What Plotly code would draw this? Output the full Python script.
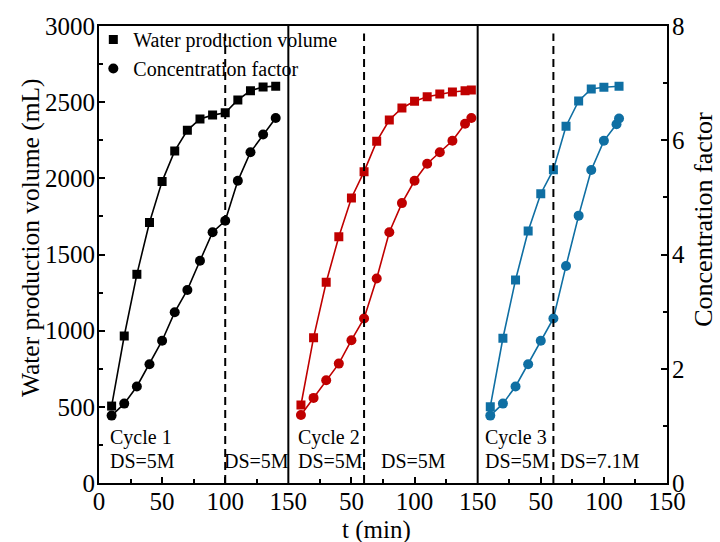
import plotly.graph_objects as go

# ---------------- data ----------------
t1 = [10, 20, 30, 40, 50, 60, 70, 80, 90, 100, 110, 120, 130, 140]
vol1 = [505, 965, 1370, 1710, 1980, 2180, 2315, 2390, 2415, 2430, 2515, 2575, 2600, 2605]
cf1 = [1.18, 1.39, 1.69, 2.08, 2.49, 2.99, 3.38, 3.89, 4.39, 4.59, 5.29, 5.79, 6.10, 6.39]

t2 = [10, 20, 30, 40, 50, 60, 70, 80, 90, 100, 110, 120, 130, 140, 145]
vol2 = [512, 954, 1318, 1617, 1871, 2044, 2243, 2383, 2462, 2506, 2536, 2554, 2567, 2575, 2580]
cf2 = [1.19, 1.49, 1.80, 2.09, 2.50, 2.88, 3.58, 4.39, 4.90, 5.29, 5.59, 5.79, 5.99, 6.29, 6.39]

t3_vol = [10, 20, 30, 40, 50, 60, 70, 80, 90, 100, 112]
vol3 = [501, 950, 1333, 1654, 1899, 2057, 2342, 2508, 2587, 2598, 2604]
t3_cf = [10, 20, 30, 40, 50, 60, 70, 80, 90, 100, 110, 112]
cf3 = [1.18, 1.39, 1.69, 2.08, 2.49, 2.88, 3.80, 4.68, 5.48, 5.99, 6.28, 6.38]

switch_t = [100, 60, 60]
panel_ticks = [[0, 50, 100, 150], [50, 100, 150], [50, 100, 150]]
legend_names = ["Water production volume", "Concentration factor"]
cycle_labels = ["Cycle 1", "Cycle 2", "Cycle 3"]
ds_before = ["DS=5M", "DS=5M", "DS=5M"]
ds_after = ["DS=5M", "DS=5M", "DS=7.1M"]

colors = ["#000000", "#c00000", "#0f6fa3"]
FONT = "Liberation Serif"

fig = go.Figure()

panels = [
    ("x", t1, vol1, t1, cf1),
    ("x2", t2, vol2, t2, cf2),
    ("x3", t3_vol, vol3, t3_cf, cf3),
]
for i, (xa, tv, v, tc, c) in enumerate(panels):
    fig.add_trace(go.Scatter(x=tv, y=v, xaxis=xa, yaxis="y", mode="lines+markers",
                             line=dict(color=colors[i], width=1.6),
                             marker=dict(symbol="square", size=9, color=colors[i]),
                             showlegend=False))
    fig.add_trace(go.Scatter(x=tc, y=c, xaxis=xa, yaxis="y2", mode="lines+markers",
                             line=dict(color=colors[i], width=1.6),
                             marker=dict(symbol="circle", size=10, color=colors[i]),
                             showlegend=False))

# legend entries (black markers only)
fig.add_trace(go.Scatter(x=[None], y=[None], xaxis="x", yaxis="y", mode="markers",
                         marker=dict(symbol="square", size=9, color="black"),
                         name=legend_names[0]))
fig.add_trace(go.Scatter(x=[None], y=[None], xaxis="x", yaxis="y", mode="markers",
                         marker=dict(symbol="circle", size=10, color="black"),
                         name=legend_names[1]))

tickfont = dict(family=FONT, size=25, color="black")
common_x = dict(range=[0, 150], showgrid=False, zeroline=False, showline=True,
                linecolor="black", linewidth=2, mirror=True, ticks="inside",
                ticklen=6, tickwidth=1.5, tickcolor="black", tickfont=tickfont,
                ticklabelstandoff=-5,
                minor=dict(ticks="inside", dtick=25, ticklen=4, tickwidth=1.5, tickcolor="black"),
                anchor="y")

doms = [[0, 1/3], [1/3, 2/3], [2/3, 1]]
layout_axes = {}
for i, name in enumerate(["xaxis", "xaxis2", "xaxis3"]):
    d = dict(common_x)
    d["domain"] = doms[i]
    d["tickmode"] = "array"
    d["tickvals"] = panel_ticks[i]
    d["ticktext"] = [str(v) for v in panel_ticks[i]]
    layout_axes[name] = d

fig.update_layout(
    **layout_axes,
    yaxis=dict(range=[0, 3000], dtick=500, showgrid=False, zeroline=False, showline=True,
               linecolor="black", linewidth=2, ticks="inside", ticklen=6, tickwidth=1.5,
               tickcolor="black", tickfont=tickfont, anchor="x", ticklabelstandoff=-3,
               minor=dict(ticks="inside", dtick=250, ticklen=4, tickwidth=1.5, tickcolor="black")),
    yaxis2=dict(range=[0, 8], dtick=2, overlaying="y", side="right", anchor="x3",
                showgrid=False, zeroline=False, showline=True, linecolor="black", linewidth=2,
                ticks="inside", ticklen=6, tickwidth=1.5, tickcolor="black", tickfont=tickfont,
                ticklabelstandoff=-2,
                minor=dict(ticks="inside", dtick=1, ticklen=4, tickwidth=1.5, tickcolor="black")),
    width=720, height=542,
    margin=dict(l=99, r=53, t=26, b=59),
    paper_bgcolor="white", plot_bgcolor="white",
    font=dict(family=FONT, color="black"),
    legend=dict(x=-0.01, y=1.013, xanchor="left", yanchor="top", bgcolor="rgba(0,0,0,0)",
                font=dict(family=FONT, size=20, color="black"), tracegroupgap=0),
)

shapes = []
for xp in [1/3, 2/3]:
    shapes.append(dict(type="line", xref="paper", yref="paper", x0=xp, x1=xp, y0=0, y1=1,
                       line=dict(color="black", width=2)))
for i, xa in enumerate(["x", "x2", "x3"]):
    shapes.append(dict(type="line", xref=xa, yref="y", x0=switch_t[i], x1=switch_t[i],
                       y0=0, y1=2950, line=dict(color="black", width=2, dash="8px,5px")))
fig.update_layout(shapes=shapes)

ann = []
left_x = [7, 6, 4]
right_x = [97.5, 71.5, 63.5]
for i, xa in enumerate(["x", "x2", "x3"]):
    ann.append(dict(x=left_x[i], y=302, xref=xa, yref="y", text=cycle_labels[i],
                    showarrow=False, xanchor="left", yanchor="middle",
                    font=dict(family=FONT, size=20, color="black")))
    ann.append(dict(x=left_x[i], y=144, xref=xa, yref="y", text=ds_before[i],
                    showarrow=False, xanchor="left", yanchor="middle",
                    font=dict(family=FONT, size=20, color="black")))
    ann.append(dict(x=right_x[i], y=144, xref=xa, yref="y", text=ds_after[i],
                    showarrow=False, xanchor="left", yanchor="middle",
                    font=dict(family=FONT, size=20, color="black")))

ann.append(dict(x=-0.1215, y=0.538, xref="paper", yref="paper", text="Water production volume (mL)",
                textangle=-90, showarrow=False, xanchor="center", yanchor="middle",
                font=dict(family=FONT, size=25.5, color="black")))
ann.append(dict(x=1.065, y=0.578, xref="paper", yref="paper", text="Concentration factor",
                textangle=-90, showarrow=False, xanchor="center", yanchor="middle",
                font=dict(family=FONT, size=26, color="black")))
ann.append(dict(x=(376 - 99) / 568, y=-(530 - 483) / 457, xref="paper", yref="paper", text="t (min)",
                showarrow=False, xanchor="center", yanchor="middle",
                font=dict(family=FONT, size=25, color="black")))
fig.update_layout(annotations=ann)

fig.write_html("out.html")
